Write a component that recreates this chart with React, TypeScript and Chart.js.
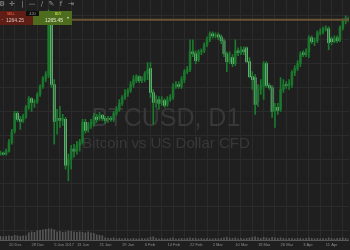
import React, { useEffect, useRef } from 'react';
import { Chart, registerables } from 'chart.js';

Chart.register(...registerables);

// Daily candles from 16 Dec 2016
const START_DATE = '2016-12-16';
const OPEN = [
  725, 725, 729, 725, 737, 773, 817, 889, 865, 861,
  877, 913, 949, 933, 937, 965, 997, 1029, 1041, 1245,
  1005, 861, 869, 861, 865, 681, 705, 745, 737, 761,
  773, 853, 825, 841, 849, 873, 869, 881, 869, 865,
  869, 865, 889, 905, 929, 953, 969, 981, 1005, 1021,
  1037, 1021, 1025, 1049, 1069, 973, 933, 945, 933, 941,
  925, 945, 953, 997, 1005, 997, 1025, 1057, 1065, 1137,
  1129, 1105, 1137, 1141, 1165, 1185, 1209, 1201, 1205, 1197,
  1181, 1129, 1097, 1113, 1089, 1141, 1133, 1145, 1153, 1097,
  1037, 1033, 937, 985, 997, 1089, 1001, 993, 897, 913,
  905, 985, 1005, 1001, 1005, 1053, 1069, 1089, 1133, 1125,
  1137, 1193, 1177, 1181, 1213, 1217, 1229, 1229, 1189, 1177,
  1193, 1185, 1233, 1261, 1269,
];
const CLOSE = [
  729, 729, 725, 737, 773, 813, 889, 865, 857, 877,
  913, 949, 933, 937, 965, 997, 1029, 1045, 1245, 1005,
  857, 869, 861, 869, 681, 705, 745, 737, 761, 773,
  853, 821, 841, 853, 877, 865, 881, 869, 861, 869,
  865, 889, 905, 929, 953, 969, 981, 1005, 1025, 1037,
  1021, 1029, 1049, 1065, 973, 933, 945, 929, 941, 921,
  945, 953, 997, 1005, 997, 1025, 1057, 1065, 1137, 1129,
  1101, 1137, 1141, 1165, 1185, 1209, 1201, 1205, 1197, 1181,
  1129, 1097, 1113, 1089, 1141, 1133, 1145, 1137, 1097, 1037,
  1025, 925, 985, 1001, 1089, 1001, 993, 897, 913, 901,
  985, 1005, 1001, 1009, 1053, 1069, 1089, 1125, 1125, 1137,
  1193, 1177, 1181, 1213, 1217, 1229, 1233, 1173, 1177, 1189,
  1181, 1233, 1261, 1269, 1265,
];
const HIGH = [
  733, 737, 733, 745, 785, 825, 897, 897, 877, 885,
  921, 957, 953, 945, 973, 1005, 1037, 1057, 1305, 1265,
  1025, 905, 917, 885, 873, 725, 761, 765, 777, 785,
  865, 865, 853, 865, 889, 885, 893, 885, 877, 877,
  877, 897, 917, 945, 961, 985, 989, 1017, 1041, 1045,
  1041, 1037, 1057, 1093, 1093, 985, 961, 957, 957, 949,
  957, 965, 1009, 1017, 1017, 1037, 1065, 1077, 1185, 1185,
  1141, 1145, 1149, 1173, 1197, 1217, 1217, 1213, 1213, 1205,
  1189, 1137, 1137, 1125, 1185, 1153, 1157, 1157, 1157, 1113,
  1057, 1045, 1005, 1025, 1097, 1097, 1009, 1001, 929, 929,
  1033, 1025, 1017, 1025, 1061, 1081, 1101, 1137, 1141, 1149,
  1201, 1201, 1193, 1221, 1229, 1237, 1241, 1237, 1197, 1201,
  1201, 1241, 1269, 1281, 1277,
];
const LOW = [
  721, 721, 721, 721, 733, 765, 809, 857, 825, 853,
  869, 905, 897, 913, 929, 957, 989, 1017, 1033, 993,
  765, 805, 833, 841, 665, 617, 665, 713, 725, 737,
  765, 809, 813, 829, 837, 853, 861, 861, 849, 853,
  857, 857, 881, 897, 921, 945, 957, 973, 993, 1013,
  1013, 1013, 1017, 1025, 953, 845, 913, 905, 921, 913,
  917, 937, 945, 989, 989, 989, 1013, 1049, 1057, 1117,
  1089, 1097, 1125, 1133, 1157, 1177, 1193, 1193, 1185, 1169,
  1117, 1057, 1089, 1077, 1081, 1121, 1125, 1125, 1093, 1033,
  985, 885, 917, 965, 945, 993, 985, 873, 833, 885,
  897, 973, 989, 985, 993, 1041, 1061, 1077, 1117, 1117,
  1113, 1169, 1161, 1173, 1205, 1209, 1221, 1145, 1165, 1173,
  1173, 1177, 1225, 1249, 1257,
];
const VOLUME = [
  40, 45, 40, 45, 50, 45, 55, 50, 45, 50,
  50, 80, 90, 85, 100, 105, 110, 115, 120, 120,
  110, 90, 95, 85, 90, 100, 95, 90, 85, 90,
  85, 80, 90, 80, 75, 60, 55, 50, 30, 25,
  25, 30, 20, 25, 20, 25, 20, 20, 25, 20,
  20, 25, 20, 25, 35, 40, 25, 20, 25, 20,
  20, 25, 30, 20, 20, 25, 20, 25, 30, 25,
  25, 20, 25, 20, 25, 20, 20, 25, 20, 25,
  30, 35, 25, 25, 30, 20, 25, 20, 25, 30,
  35, 40, 30, 25, 35, 30, 25, 35, 30, 25,
  30, 25, 20, 25, 25, 20, 25, 25, 20, 25,
  30, 25, 20, 25, 20, 25, 20, 30, 25, 20,
  25, 25, 30, 25, 20,
];
// labels every 8 days, first one on candle index 4 (20 Dec)
const X_TICK_LABELS = [
  '20 Dec', '28 Dec', '5 Jan 2017', '13 Jan', '21 Jan', '29 Jan', '6 Feb', '14 Feb',
  '22 Feb', '2 Mar', '10 Mar', '18 Mar', '26 Mar', '3 Apr', '11 Apr',
];
const FIRST_LABEL_INDEX = 4;
const LABEL_EVERY = 8;
const GRID_EVERY = 4;
const Y_GRID_PRICES = [1281, 1185, 1089, 993, 897, 801, 705, 609, 513, 417];

const BID = 1264.25;
const ASK = 1265.45;
const SPREAD = '420';
const SYMBOL = 'BTCUSD, D1';
const DESCRIPTION = 'Bitcoin vs US Dollar CFD';
const TOOL_ICONS = ['\u2699', '\u271B', '|', '\u2014', '/', '\u270E', 'f', '\u21E5'];

const X_MIN = 0.83;
const X_MAX = 124.07;
const Y_MIN = 377;
const Y_MAX = 1345;
const VOL_MAX = 2420;

const BG = '#1f1f1f';
const GRID = '#2b2b2b';
const UP = '#1a6a2a';
const DOWN = '#a8dfb0';
const WICK = '#1b7a2e';

export default function App() {
  const ref = useRef<HTMLCanvasElement>(null);

  useEffect(() => {
    const canvas = ref.current;
    if (!canvas) return;
    const idx = CLOSE.map((_, i) => i);
    const wicks = idx.map((i) => ({ x: i, y: [LOW[i], HIGH[i]] }));
    const bodies = idx.map((i) => ({ x: i, y: [OPEN[i], CLOSE[i]] }));
    const bodyColors = idx.map((i) => (CLOSE[i] >= OPEN[i] ? UP : DOWN));
    const vols = idx.map((i) => ({ x: i, y: VOLUME[i] }));

    const decor = {
      id: 'decor',
      beforeDraw(chart: any) {
        const { ctx, width, height } = chart;
        ctx.save();
        ctx.fillStyle = BG;
        ctx.fillRect(0, 0, width, height);
        ctx.restore();
      },
      beforeDatasetsDraw(chart: any) {
        const { ctx } = chart;
        ctx.save();
        ctx.fillStyle = '#383838';
        ctx.textAlign = 'center';
        ctx.textBaseline = 'alphabetic';
        ctx.font = '25px "Liberation Sans", Arial, sans-serif';
        ctx.fillText(SYMBOL, 166, 126);
        ctx.font = '15px "Liberation Sans", Arial, sans-serif';
        ctx.fillText(DESCRIPTION, 166, 148);
        ctx.restore();
      },
      afterDatasetsDraw(chart: any) {
        const { ctx, chartArea } = chart;
        const y = chart.scales.y.getPixelForValue(ASK);
        ctx.save();
        ctx.strokeStyle = '#6a5433';
        ctx.lineWidth = 2;
        ctx.beginPath();
        ctx.moveTo(chartArea.left, y);
        ctx.lineTo(chartArea.right, y);
        ctx.stroke();
        ctx.restore();
      },
      afterDraw(chart: any) {
        const { ctx } = chart;
        ctx.save();
        // toolbar
        ctx.fillStyle = '#9a9a9a';
        ctx.textAlign = 'center';
        ctx.textBaseline = 'middle';
        ctx.font = '7px "DejaVu Sans", sans-serif';
        const xs = [2, 12, 22.5, 32, 42, 51.5, 61, 71];
        TOOL_ICONS.forEach((g, k) => ctx.fillText(g, xs[k], 4.5));
        // sell / buy boxes
        ctx.fillStyle = '#5e1d15';
        ctx.fillRect(0, 11, 33, 14);
        ctx.fillStyle = '#4d6c1e';
        ctx.fillRect(33, 11, 39, 14);
        ctx.fillStyle = '#0e0e0e';
        ctx.fillRect(26, 11, 13, 5);
        ctx.font = 'bold 3px "Liberation Sans", Arial, sans-serif';
        ctx.fillStyle = '#e0533c';
        ctx.textAlign = 'left';
        ctx.fillText('SELL', 7, 14.5);
        ctx.fillStyle = '#b9d23f';
        ctx.fillText('BUY', 55, 14.5);
        ctx.font = '4px "Liberation Sans", Arial, sans-serif';
        ctx.fillStyle = '#9a9a9a';
        ctx.textAlign = 'center';
        ctx.fillText(SPREAD, 32.5, 13.7);
        ctx.font = '5px "Liberation Sans", Arial, sans-serif';
        ctx.fillStyle = '#d8c8c0';
        ctx.textAlign = 'left';
        ctx.fillText(BID.toFixed(2), 6, 20.5);
        ctx.fillStyle = '#e4ecd4';
        ctx.fillText(ASK.toFixed(2), 45, 20.5);
        ctx.fillStyle = '#c8a090';
        ctx.fillText('-', 1.5, 20);
        ctx.fillStyle = '#d0dcc0';
        ctx.font = '4px "DejaVu Sans", sans-serif';
        ctx.fillText('\u25BE', 67, 18);
        ctx.restore();
      },
    };

    const chart = new Chart(canvas, {
      type: 'bar',
      data: {
        datasets: [
          {
            label: 'volume',
            data: vols as any,
            yAxisID: 'yv',
            backgroundColor: '#565656',
            barThickness: 1,
            grouped: false,
          } as any,
          {
            label: 'wick',
            data: wicks as any,
            yAxisID: 'y',
            backgroundColor: WICK,
            barThickness: 1,
            grouped: false,
          } as any,
          {
            label: 'body',
            data: bodies as any,
            yAxisID: 'y',
            backgroundColor: bodyColors,
            barThickness: 2,
            minBarLength: 1,
            grouped: false,
          } as any,
        ],
      },
      options: {
        animation: false,
        responsive: true,
        maintainAspectRatio: false,
        layout: { padding: { left: 0, right: 0, top: 0, bottom: 1.5 } },
        plugins: { legend: { display: false }, tooltip: { enabled: false } },
        scales: {
          x: {
            type: 'linear',
            min: X_MIN,
            max: X_MAX,
            offset: false,
            afterBuildTicks: (scale: any) => {
              const t: any[] = [];
              for (let v = 0; v <= X_MAX; v += GRID_EVERY) if (v >= X_MIN) t.push({ value: v });
              scale.ticks = t;
            },
            ticks: {
              autoSkip: false,
              maxRotation: 0,
              align: 'start',
              padding: 1.5,
              color: '#8c8c8c',
              font: { size: 4, family: '"Liberation Sans", Arial, sans-serif' },
              callback: (v: any) => {
                const k = (Number(v) - FIRST_LABEL_INDEX) / LABEL_EVERY;
                return Number.isInteger(k) && X_TICK_LABELS[k] ? X_TICK_LABELS[k] : '';
              },
            },
            grid: { color: GRID, drawTicks: false, lineWidth: 1 },
            border: { display: true, color: '#5c5c5c' },
          },
          y: {
            position: 'right',
            min: Y_MIN,
            max: Y_MAX,
            afterBuildTicks: (scale: any) => {
              scale.ticks = Y_GRID_PRICES.map((v) => ({ value: v }));
            },
            ticks: { display: false },
            grid: { color: GRID, drawTicks: false, lineWidth: 1 },
            border: { display: false },
          },
          yv: { display: false, min: 0, max: VOL_MAX },
        },
      } as any,
      plugins: [decor],
    });
    return () => chart.destroy();
  }, []);

  return (
    <div style={{ position: 'fixed', left: 0, top: 0, width: 350, height: 250, background: BG }}>
      <canvas ref={ref} />
    </div>
  );
}
